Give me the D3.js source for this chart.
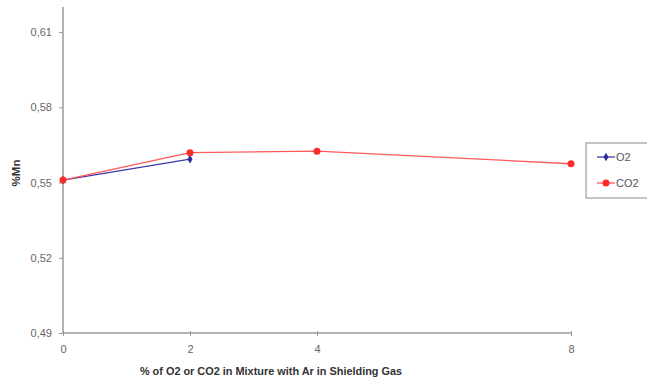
<!DOCTYPE html>
<html>
<head>
<meta charset="utf-8">
<script src="https://cdn.jsdelivr.net/npm/d3@7"></script>
<style>
  html, body { margin: 0; padding: 0; background: #fff; }
  svg { display: block; }
  text { font-family: "Liberation Sans", Arial, sans-serif; }
</style>
</head>
<body>
<svg id="chart" width="647" height="382"></svg>
<script>
// Shielding gas content (%) and manganese content of the weld
const xValues = [0, 2, 4, 8];
const o2Values = [0.551, 0.5593];
const co2Values = [0.551, 0.5619, 0.5625, 0.5575];
const yTicks = [0.49, 0.52, 0.55, 0.58, 0.61];
const seriesNames = ["O2", "CO2"];
const seriesColors = ["#2b2b9c", "#ff2a2a"];
const lineColors = ["#3a3aa8", "#ff5a5a"];

const svg = d3.select("#chart");
const margin = { left: 63, right: 76, top: 7, bottom: 49 };
const W = 647, H = 382;

const x = d3.scaleLinear().domain([0, 8]).range([margin.left, W - margin.right]);
const y = d3.scaleLinear().domain([0.49, 0.62]).range([H - margin.bottom, margin.top]);

const fmt = v => d3.format(".2f")(v).replace(".", ",");

// y axis
const yAxis = svg.append("g")
  .attr("transform", `translate(${margin.left},0)`)
  .call(d3.axisLeft(y).tickValues(yTicks).tickFormat(fmt).tickSize(4).tickPadding(7));
yAxis.select(".domain").attr("stroke", "#999").attr("stroke-width", 1.5)
  .attr("d", `M0,${y(0.62)}V${y(0.49)}`);
yAxis.selectAll(".tick line").attr("stroke", "#999");
yAxis.selectAll(".tick text").attr("fill", "#666").attr("font-size", 11);

// x axis
const xAxis = svg.append("g")
  .attr("transform", `translate(0,${y(0.49)})`)
  .call(d3.axisBottom(x).tickValues(xValues).tickFormat(d3.format("d")).tickSize(3).tickPadding(9));
xAxis.select(".domain").attr("stroke", "#999").attr("stroke-width", 1.5)
  .attr("d", `M${x(0)},0H${x(8)}`);
xAxis.selectAll(".tick line").attr("stroke", "#999").attr("y1", -2);
xAxis.selectAll(".tick text").attr("fill", "#666").attr("font-size", 11);

// axis titles
svg.append("text")
  .attr("transform", `translate(20,173) rotate(-90)`)
  .attr("text-anchor", "middle")
  .attr("font-size", 11.5).attr("font-weight", "bold").attr("fill", "#333")
  .text("%Mn");
svg.append("text")
  .attr("x", 271).attr("y", 375)
  .attr("text-anchor", "middle")
  .attr("font-size", 10.9).attr("font-weight", "bold").attr("fill", "#333")
  .text("% of O2 or CO2 in Mixture with Ar in Shielding Gas");

const line = d3.line().x(d => x(d[0])).y(d => y(d[1]));
const series = [
  { name: seriesNames[0], color: seriesColors[0], lc: lineColors[0], pts: o2Values.map((v, i) => [xValues[i], v]), marker: "diamond" },
  { name: seriesNames[1], color: seriesColors[1], lc: lineColors[1], pts: co2Values.map((v, i) => [xValues[i], v]), marker: "circle" }
];

// CO2 drawn last so it sits on top
series.forEach(s => {
  svg.append("path").datum(s.pts)
    .attr("fill", "none").attr("stroke", s.lc).attr("stroke-width", 1.3)
    .attr("d", line);
  if (s.marker === "circle") {
    svg.selectAll(null).data(s.pts).enter().append("circle")
      .attr("cx", d => x(d[0])).attr("cy", d => y(d[1])).attr("r", 3.5)
      .attr("fill", s.color);
  } else {
    svg.selectAll(null).data(s.pts).enter().append("path")
      .attr("transform", d => `translate(${x(d[0])},${y(d[1])})`)
      .attr("d", d3.symbol(d3.symbolDiamond, 22)())
      .attr("fill", s.color);
  }
});

// legend
const lg = svg.append("g").attr("transform", "translate(586,143)");
lg.append("rect").attr("width", 66).attr("height", 55)
  .attr("fill", "#fff").attr("stroke", "#888").attr("stroke-width", 1);
series.forEach((s, i) => {
  const cy = 14 + i * 26;
  lg.append("line").attr("x1", 11).attr("x2", 29).attr("y1", cy).attr("y2", cy)
    .attr("stroke", s.lc).attr("stroke-width", 1.3);
  if (s.marker === "circle") {
    lg.append("circle").attr("cx", 20).attr("cy", cy).attr("r", 3.5).attr("fill", s.color);
  } else {
    lg.append("path").attr("transform", `translate(20,${cy})`)
      .attr("d", d3.symbol(d3.symbolDiamond, 22)()).attr("fill", s.color);
  }
  lg.append("text").attr("x", 30).attr("y", cy + 4)
    .attr("font-size", 11).attr("fill", "#555").text(s.name);
});
</script>
</body>
</html>
